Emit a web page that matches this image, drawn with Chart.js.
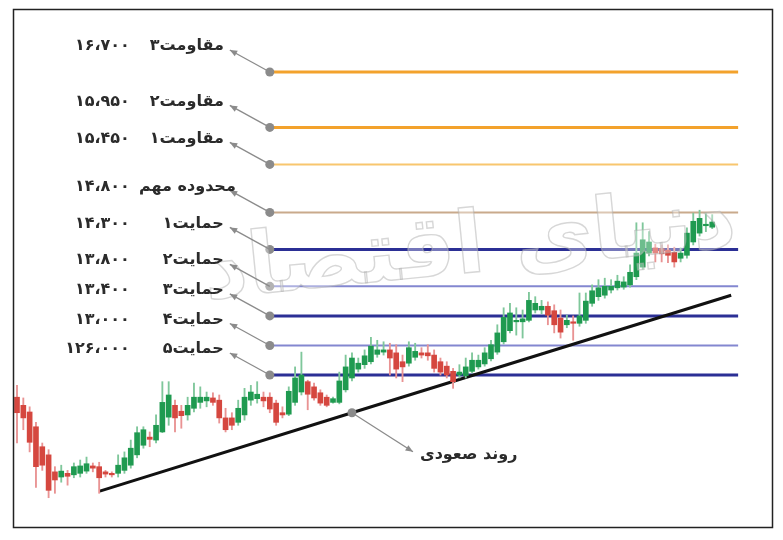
<!DOCTYPE html>
<html>
<head>
<meta charset="utf-8">
<script src="https://cdn.jsdelivr.net/npm/chart.js@4.4.1/dist/chart.umd.min.js"></script>
<style>
  html, body { margin: 0; background: #fff; }
  #wrap { width: 783px; height: 540px; }
</style>
</head>
<body>
<div id="wrap"><canvas id="priceChart" width="783" height="540"></canvas></div>
<script>
// candles (price units)
const openP  = [12300,12190,12100,11900,11630,11520,11290,11220,11270,11250,11270,11300,11370,11360,11290,11270,11270,11310,11380,11520,
                11650,11760,11720,11830,12030,12190,12110,12060,12150,12230,12250,12290,12260,12020,12020,11960,12060,12260,12280,12300,
                12300,12220,12090,12070,12230,12370,12510,12440,12360,12300,12230,12230,12400,12560,12680,12740,12780,12880,12910,12940,
                12900,12780,12760,12840,12900,12900,12870,12780,12720,12650,12600,12590,12650,12710,12750,12820,12910,13050,13200,13320,
                13320,13340,13480,13480,13530,13470,13370,13280,13320,13300,13340,13570,13660,13680,13750,13780,13790,13820,13930,14060,
                14250,14320,14310,14290,14260,14180,14220,14400,14520,14620,14600];
const highP  = [12460,12290,12170,11960,11680,11590,11360,11380,11310,11410,11450,11490,11410,11420,11310,11290,11520,11560,11720,11900,
                11900,11830,12060,12510,12510,12260,12190,12300,12490,12440,12370,12360,12330,12150,12090,12260,12420,12460,12510,12370,
                12360,12260,12170,12440,12710,12910,12530,12490,12400,12330,12300,12640,12870,12900,12830,12940,13110,13070,13050,13030,
                13010,12870,13050,13030,12970,13010,12940,12830,12780,12690,12740,12830,12900,12870,12970,13070,13280,13510,13570,13510,
                13480,13720,13660,13610,13590,13550,13480,13410,13400,13710,13710,13820,13890,13910,13890,13950,13930,14090,14660,14660,
                14540,14370,14360,14360,14330,14320,14590,14790,14830,14790,14770];
const lowP   = [11680,11860,11560,11080,11310,10940,11000,11150,11110,11210,11220,11270,11290,11000,11220,11220,11220,11270,11340,11480,
                11610,11630,11680,11820,11920,11830,11880,11990,12100,12150,12170,12190,11950,11830,11860,11920,11990,12190,12220,12170,
                12090,11920,12020,12050,12190,12330,12130,12260,12190,12170,12220,12210,12370,12520,12640,12690,12750,12840,12870,12600,
                12560,12510,12720,12800,12830,12800,12640,12600,12560,12420,12560,12560,12630,12680,12720,12790,12880,13020,13170,13140,
                13100,13320,13440,13430,13280,13170,13100,13240,13070,13260,13300,13530,13610,13640,13710,13750,13760,13790,13890,14030,
                14210,14130,14130,14120,14060,14130,14180,14360,14480,14540,14580];
const closeP = [12090,12020,11690,11360,11380,11040,11180,11300,11230,11360,11370,11400,11340,11210,11260,11250,11380,11480,11610,11820,
                11860,11730,11920,12230,12330,12020,12050,12190,12300,12300,12300,12230,12020,11860,11920,12150,12300,12370,12340,12250,
                12140,11960,12060,12380,12560,12600,12340,12290,12220,12190,12280,12520,12710,12830,12760,12860,12990,12940,12940,12830,
                12680,12710,12970,12920,12870,12860,12690,12640,12600,12510,12640,12710,12800,12800,12900,13010,13170,13380,13440,13340,
                13360,13610,13570,13530,13410,13280,13180,13340,13300,13400,13600,13740,13780,13800,13800,13870,13860,13990,14250,14430,
                14400,14250,14240,14220,14130,14250,14520,14680,14720,14640,14670];
const days = openP.map((_, i) => i);

// support / resistance levels
const levels      = [16700, 15950, 15450, 14800, 14300, 13800, 13400, 13000, 12600];
const levelNames  = ['مقاومت۳', 'مقاومت۲', 'مقاومت۱', 'محدوده مهم', 'حمایت۱', 'حمایت۲', 'حمایت۳', 'حمایت۴', 'حمایت۵'];
const levelText   = ['۱۶،۷۰۰', '۱۵،۹۵۰', '۱۵،۴۵۰', '۱۴،۸۰۰', '۱۴،۳۰۰', '۱۳،۸۰۰', '۱۳،۴۰۰', '۱۳،۰۰۰', '۱۲۶،۰۰۰'];
const levelFrom   = 40;
const levelTo     = 114.1;

// uptrend line
const trendX = [13.1, 53, 113];
const trendY = [11030, 12090, 13680];
const trendName = 'روند صعودی';

const levelColors = ['#f3a22c', '#f3a22c', '#f8c66e', '#c9aa8c', '#2b2f95', '#8387d0', '#2b2f95', '#8387d0', '#2b2f95'];
const levelWidths = [3, 3, 2, 2, 3, 2, 3, 2, 3];

const UP = '#1f9a50', DOWN = '#d5473f';
const UP_WICK = '#7fc79b', DOWN_WICK = '#e99393';
const isUp = i => closeP[i] >= openP[i];

const levelSets = levels.map((lv, k) => ({
    type: 'line',
    order: 3,
    data: [{x: levelFrom, y: lv}, {x: levelTo, y: lv}],
    borderColor: levelColors[k],
    borderWidth: levelWidths[k],
    pointRadius: [4.5, 0],
    pointBackgroundColor: '#8b8b8b',
    pointBorderWidth: 0
}));

const notes = {
    id: 'notes',
    afterDatasetsDraw(chart) {
        const c = chart.ctx, xs = chart.scales.x, ys = chart.scales.y;
        c.save();

        // watermark
        c.save();
        c.translate(470, 250);
        c.rotate(-0.1);
        c.font = 'bold 86px "DejaVu Sans"';
        c.textAlign = 'center';
        c.textBaseline = 'middle';
        c.direction = 'rtl';
        c.fillStyle = 'rgba(255,255,255,0.35)';
        c.fillText('دنیای اقتصاد', 0, 0);
        c.strokeStyle = 'rgba(175,175,175,0.5)';
        c.lineWidth = 1.4;
        c.strokeText('دنیای اقتصاد', 0, 0);
        c.restore();

        const arrow = (x0, y0, x1, y1) => {
            c.strokeStyle = '#8b8b8b';
            c.fillStyle = '#8b8b8b';
            c.lineWidth = 1.3;
            c.beginPath(); c.moveTo(x0, y0); c.lineTo(x1, y1); c.stroke();
            const a = Math.atan2(y1 - y0, x1 - x0);
            c.beginPath();
            c.moveTo(x1, y1);
            c.lineTo(x1 - 8 * Math.cos(a - 0.4), y1 - 8 * Math.sin(a - 0.4));
            c.lineTo(x1 - 8 * Math.cos(a + 0.4), y1 - 8 * Math.sin(a + 0.4));
            c.closePath(); c.fill();
        };

        c.font = 'bold 16px "DejaVu Sans"';
        c.textBaseline = 'middle';
        c.direction = 'rtl';
        levels.forEach((lv, k) => {
            const dx = xs.getPixelForValue(levelFrom), dy = ys.getPixelForValue(lv);
            arrow(dx, dy, dx - 40, dy - 22);
            c.fillStyle = '#2b2b2b';
            c.textAlign = 'right';
            c.fillText(levelNames[k], dx - (k === 3 ? 34 : 46), dy - 26);
            c.fillText(levelText[k], dx - 140, dy - 26);
        });

        const tx = xs.getPixelForValue(trendX[1]), ty = ys.getPixelForValue(trendY[1]);
        arrow(tx, ty, tx + 61, ty + 39);
        c.fillStyle = '#2b2b2b';
        c.textAlign = 'left';
        c.fillText(trendName, tx + 68, ty + 42);

        // frame
        c.strokeStyle = '#222';
        c.lineWidth = 1.5;
        c.strokeRect(13.5, 9.5, 759, 518);
        c.restore();
    }
};

new Chart(document.getElementById('priceChart'), {
    type: 'bar',
    data: {
        datasets: [
            {
                label: 'body',
                order: 0,
                grouped: false,
                barThickness: 5,
                data: days.map(i => ({x: i, y: [openP[i], closeP[i]]})),
                backgroundColor: days.map(i => isUp(i) ? UP : DOWN)
            },
            {
                label: 'wick',
                order: 1,
                grouped: false,
                barThickness: 1.2,
                data: days.map(i => ({x: i, y: [lowP[i], highP[i]]})),
                backgroundColor: days.map(i => isUp(i) ? UP_WICK : DOWN_WICK)
            },
            {
                type: 'line',
                order: 2,
                data: trendX.map((x, i) => ({x: x, y: trendY[i]})),
                borderColor: '#111',
                borderWidth: 3,
                pointRadius: [0, 4.5, 0],
                pointBackgroundColor: '#8b8b8b',
                pointBorderWidth: 0
            },
            ...levelSets
        ]
    },
    options: {
        responsive: false,
        animation: false,
        layout: { padding: 0, autoPadding: false },
        plugins: { legend: { display: false }, tooltip: { enabled: false } },
        scales: {
            x: { type: 'linear', min: -2.69, max: 121.2, offset: false, display: false },
            y: { min: 10368, max: 17674, display: false }
        }
    },
    plugins: [notes]
});
</script>
</body>
</html>
